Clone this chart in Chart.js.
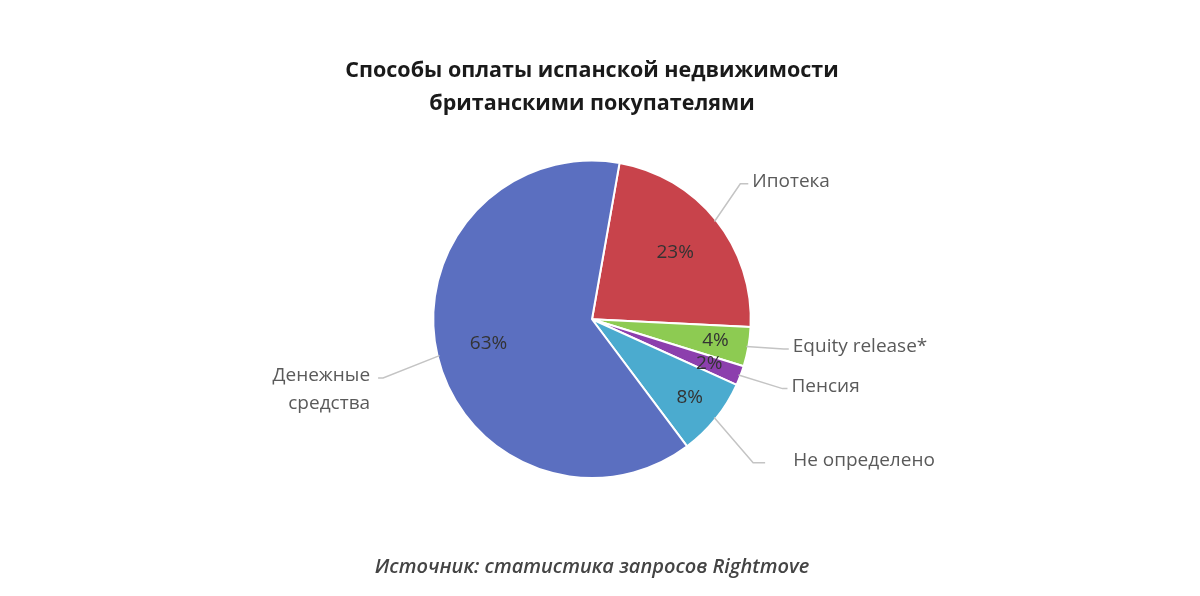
<!DOCTYPE html>
<html>
<head>
<meta charset="utf-8">
<script src="https://cdn.jsdelivr.net/npm/chart.js@4/dist/chart.umd.min.js"></script>
<style>
  html, body { margin: 0; padding: 0; background: #fff; }
  #wrap { width: 1200px; height: 596px; }
</style>
</head>
<body>
<div id="wrap"><canvas id="payChart"></canvas></div>
<script>
const categories = ['Ипотека', 'Equity release*', 'Пенсия', 'Не определено', ['Денежные', 'средства']];
const shares = [23, 4, 2, 8, 63];
const sliceColors = ['#C8434B', '#8DCB52', '#8C3FAD', '#4BABCF', '#5B6FC0'];

const labelFont = '19px "Open Sans", sans-serif';
const leaderExt = [31, 36, 45, 48, 56];
const leaderDy = [-17, -4, -3, 14, 9];
const leaderTail = [8, 5, 5, 12, 5];
const textGap = [4, 4, 4, 28, 8];

// percent labels inside and category labels with leader lines outside
const pieLabels = {
    id: 'pieLabels',
    afterDatasetsDraw(chart) {
        const ctx = chart.ctx;
        const arcs = chart.getDatasetMeta(0).data;
        ctx.save();
        arcs.forEach((arc, i) => {
            const p = arc.getProps(['x', 'y', 'startAngle', 'endAngle', 'outerRadius'], true);
            const mid = (p.startAngle + p.endAngle) / 2;
            const cos = Math.cos(mid), sin = Math.sin(mid);
            const R = p.outerRadius;

            // percent
            const f = shares[i] >= 10 ? 0.67 : 0.79;
            ctx.font = '19px "Open Sans", sans-serif';
            ctx.fillStyle = '#333333';
            ctx.textAlign = 'center';
            ctx.textBaseline = 'middle';
            ctx.fillText(shares[i] + '%', p.x + cos * R * f, p.y + sin * R * f);

            // leader
            const ex = p.x + cos * (R + leaderExt[i]);
            const ey = p.y + sin * (R + leaderExt[i]) + leaderDy[i];
            const side = cos >= 0 ? 1 : -1;
            const tail = ex + side * leaderTail[i];
            ctx.strokeStyle = '#c4c4c4';
            ctx.lineWidth = 1.5;
            ctx.beginPath();
            ctx.moveTo(p.x + cos * (R - 2), p.y + sin * (R - 2));
            ctx.lineTo(ex, ey);
            ctx.lineTo(tail, ey);
            ctx.stroke();

            const lines = Array.isArray(categories[i]) ? categories[i] : [categories[i]];
            ctx.font = labelFont;
            ctx.fillStyle = '#5a5a5a';
            ctx.textAlign = side > 0 ? 'left' : 'right';
            lines.forEach((t, k) => ctx.fillText(t, tail + side * textGap[i], ey - 2 + k * 28));
        });
        ctx.restore();
    }
};

new Chart(document.getElementById('payChart'), {
    type: 'pie',
    data: {
        labels: categories,
        datasets: [{
            data: shares,
            backgroundColor: sliceColors,
            borderColor: '#ffffff',
            borderWidth: 2,
        }]
    },
    options: {
        responsive: true,
        maintainAspectRatio: false,
        animation: false,
        rotation: 10,
        layout: { padding: { left: 300, right: 316, top: 0, bottom: 0 } },
        plugins: {
            legend: { display: false },
            tooltip: { enabled: false },
            title: {
                display: true,
                text: ['Способы оплаты испанской недвижимости', 'британскими покупателями'],
                color: '#1a1a1a',
                font: { family: '"Open Sans", sans-serif', size: 21.5, weight: 'bold', lineHeight: 1.5 },
                padding: { top: 55, bottom: 40 }
            },
            subtitle: {
                display: true,
                position: 'bottom',
                text: 'Источник: статистика запросов Rightmove',
                color: '#444444',
                font: { family: '"Open Sans", sans-serif', size: 20, style: 'italic', weight: '600', lineHeight: 1.2 },
                padding: { top: 76, bottom: 17 }
            }
        }
    },
    plugins: [pieLabels]
});
</script>
</body>
</html>
